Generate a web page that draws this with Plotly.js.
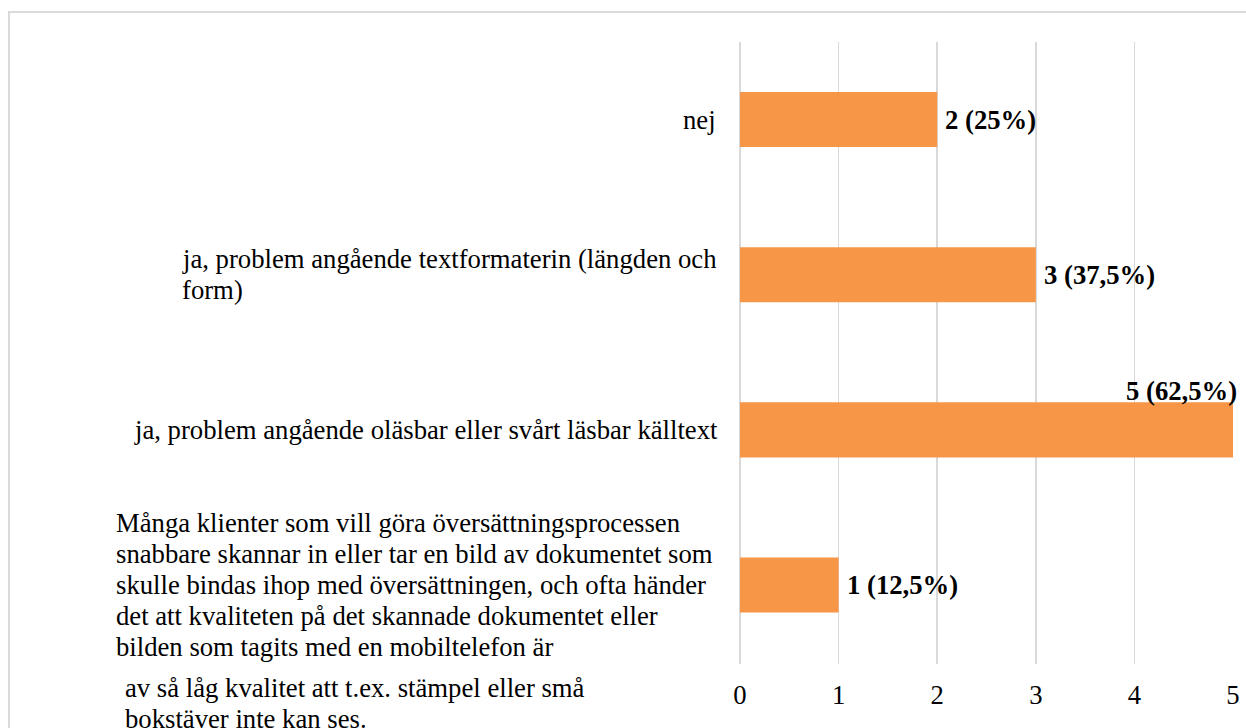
<!DOCTYPE html>
<html>
<head>
<meta charset="utf-8">
<script src="https://cdn.plot.ly/plotly-3.0.1.min.js"></script>
<style>
  html, body { margin: 0; padding: 0; background: #fff; }
  #wrap { position: relative; width: 1246px; height: 728px; overflow: hidden; }
  #chart { position: absolute; left: 0; top: 0; width: 1246px; height: 728px; }
  #frame { position: absolute; left: 8px; top: 11px; right: -4px; bottom: -4px;
           border-top: 2px solid #d9d9d9; border-left: 2px solid #d9d9d9; pointer-events: none; }
</style>
</head>
<body>
<div id="wrap"><div id="chart"></div><div id="frame"></div></div>
<script>
// ---- data ----
const categories = [
  "nej",
  "ja, problem angående textformaterin (längden och form)",
  "ja, problem angående oläsbar eller svårt läsbar källtext",
  "Många klienter som vill göra översättningsprocessen snabbare skannar in eller tar en bild av dokumentet som skulle bindas ihop med översättningen, och ofta händer det att kvaliteten på det skannade dokumentet eller bilden som tagits med en mobiltelefon är av så låg kvalitet att t.ex. stämpel eller små bokstäver inte kan ses."
];
const values = [2, 3, 5, 1];
const respondents = 8;
const labelLines = [
  ["nej"],
  ["ja, problem angående textformaterin (längden och", "form)"],
  ["ja, problem angående oläsbar eller svårt läsbar källtext"],
  ["Många klienter som vill göra översättningsprocessen",
   "snabbare skannar in eller tar en bild av dokumentet som",
   "skulle bindas ihop med översättningen, och ofta händer",
   "det att kvaliteten på det skannade dokumentet eller",
   "bilden som tagits med en mobiltelefon är"]
];
const labelTail = ["av så låg kvalitet att t.ex. stämpel eller små", "bokstäver inte kan ses."];
const xTicks = [0, 1, 2, 3, 4, 5];
const xMax = 5;

// ---- styling / layout helpers ----
const FONT = "Liberation Serif, Times New Roman, serif";
const FS = 26.7;
const LINE = 31;
const plotLeft = 740, plotRight = 1233, plotTop = 42, plotBottom = 664;
const labelRight = 716;

function pctText(v) {
  const p = v / respondents * 100;
  return v + " (" + String(Math.round(p * 10) / 10).replace(".", ",") + "%)";
}

const cv = document.createElement("canvas").getContext("2d");
cv.font = FS + "px 'Liberation Serif'";
function w(t) { return cv.measureText(t).width; }

const annotations = [];
categories.forEach((cat, i) => {
  const lines = labelLines[i];
  const n = lines.length;
  const maxW = Math.max(...lines.map(w));
  const left = Math.min(labelRight - maxW, labelRight - maxW - (n > 3 ? 3 : 0));
  lines.forEach((ln, j) => {
    annotations.push({
      xref: "x", yref: "y", x: 0, y: cat, xanchor: "left", yanchor: "middle",
      xshift: left - plotLeft - 2, yshift: -((j - (n - 1) / 2) * LINE),
      text: ln, showarrow: false, align: "left",
      font: { family: FONT, size: FS, color: "#000" }
    });
  });
  if (i === categories.length - 1) {
    labelTail.forEach((ln, k) => {
      annotations.push({
        xref: "x", yref: "y", x: 0, y: cat, xanchor: "left", yanchor: "middle",
        xshift: left - plotLeft + 7, yshift: -(((n - 1) / 2) * LINE + 41 + k * LINE),
        text: ln, showarrow: false, align: "left",
        font: { family: FONT, size: FS, color: "#000" }
      });
    });
  }
  // data label
  const v = values[i];
  const atMax = v >= xMax;
  annotations.push({
    xref: "x", yref: "y", x: v, y: cat,
    xanchor: atMax ? "right" : "left", yanchor: "middle",
    xshift: 6, yshift: atMax ? 39 : 0,
    text: "<b>" + pctText(v) + "</b>", showarrow: false,
    font: { family: FONT, size: FS, color: "#000" }
  });
});

const trace = {
  type: "bar", orientation: "h",
  y: categories, x: values,
  width: 0.355,
  marker: { color: "#F79646" },
  hoverinfo: "none"
};

const layout = {
  width: 1246, height: 728,
  margin: { l: plotLeft, r: 1246 - plotRight, t: plotTop, b: 728 - plotBottom, pad: 0 },
  paper_bgcolor: "rgba(0,0,0,0)", plot_bgcolor: "rgba(0,0,0,0)",
  showlegend: false,
  xaxis: {
    range: [0, xMax], tickvals: xTicks, ticktext: xTicks.map(String),
    showgrid: true, gridcolor: "#d9d9d9", gridwidth: 1.5,
    zeroline: true, zerolinecolor: "#d9d9d9", zerolinewidth: 1.5,
    showline: false, ticks: "", ticklabelstandoff: 12,
    tickfont: { family: FONT, size: FS, color: "#000" },
    fixedrange: true
  },
  yaxis: {
    type: "category", autorange: "reversed",
    showticklabels: false, showgrid: false, zeroline: false, showline: false, ticks: "",
    fixedrange: true
  },
  annotations: annotations
};

Plotly.newPlot("chart", [trace], layout, { displayModeBar: false, staticPlot: true });
</script>
</body>
</html>
